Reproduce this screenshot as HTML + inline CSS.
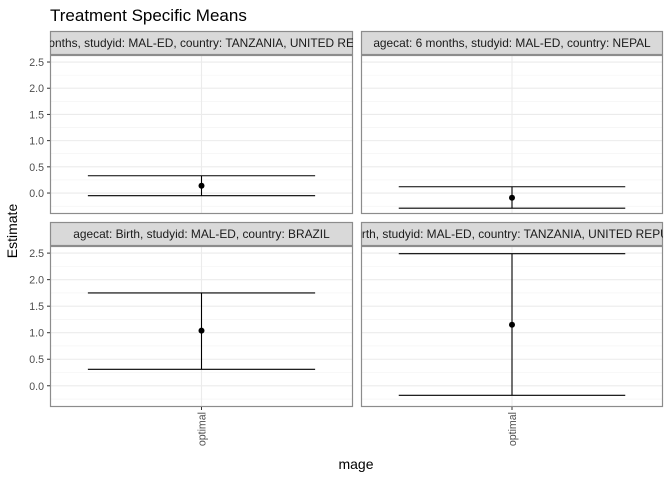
<!DOCTYPE html>
<html><head><meta charset="utf-8">
<style>
html,body{margin:0;padding:0;background:#fff;}
svg{display:block;font-family:"Liberation Sans",Arial,sans-serif;}
</style></head>
<body>
<svg id="chart" width="672" height="480" viewBox="0 0 672 480">
<defs></defs>
<text x="50" y="21" font-size="17" fill="#000">Treatment Specific Means</text>
<text transform="translate(17,231) rotate(-90)" text-anchor="middle" font-size="14" fill="#000">Estimate</text>
<text x="356" y="469" text-anchor="middle" font-size="14" fill="#000">mage</text>
<g id="panels"></g>
</svg>
<script>
const panelTitles = [
 "agecat: 6 months, studyid: MAL-ED, country: TANZANIA, UNITED REPUBLIC OF",
 "agecat: 6 months, studyid: MAL-ED, country: NEPAL",
 "agecat: Birth, studyid: MAL-ED, country: BRAZIL",
 "agecat: Birth, studyid: MAL-ED, country: TANZANIA, UNITED REPUBLIC OF"
];
const categories = ["optimal"];
const estimates = [0.14, -0.09, 1.04, 1.15];
const lowers = [-0.05, -0.29, 0.31, -0.18];
const uppers = [0.33, 0.12, 1.75, 2.49];
const yTicks = [0, 0.5, 1, 1.5, 2, 2.5];
const yTickLabels = ["0.0","0.5","1.0","1.5","2.0","2.5"];

const NS = "http://www.w3.org/2000/svg";
const g = document.getElementById("panels");
const defs = document.querySelector("defs");
const yMin = -0.40, yMax = 2.634;
const layout = [
 {x:50,w:303,sy:31,py:55,ph:159},
 {x:361,w:302,sy:31,py:55,ph:159},
 {x:50,w:303,sy:222,py:246,ph:161},
 {x:361,w:302,sy:222,py:246,ph:161}
];
function mk(tag, attrs, parent){
  const e = document.createElementNS(NS, tag);
  for (const k in attrs) e.setAttribute(k, attrs[k]);
  (parent||g).appendChild(e);
  return e;
}
layout.forEach((L, i) => {
  const yS = v => L.py + L.ph - (v - yMin) / (yMax - yMin) * L.ph;
  const xS = c => L.x + (categories.indexOf(c) + 1 - 0.4) / 1.2 * L.w;
  const pg = mk("g", {});
  
  
  mk("rect", {x:L.x, y:L.py, width:L.w, height:L.ph, fill:"#fff"}, pg);
  for (let k = 0; k < yTicks.length; k++) {
    const m = yTicks[k] - 0.25;
    if (m > yMin) mk("line", {x1:L.x, x2:L.x+L.w, y1:yS(m), y2:yS(m), stroke:"#f2f2f2", "stroke-width":0.6}, pg);
  }
  mk("line", {x1:L.x, x2:L.x+L.w, y1:yS(2.75), y2:yS(2.75), stroke:"#f2f2f2", "stroke-width":0.6}, pg);
  yTicks.forEach(t => mk("line", {x1:L.x, x2:L.x+L.w, y1:yS(t), y2:yS(t), stroke:"#ebebeb", "stroke-width":1.1}, pg));
  categories.forEach(c => mk("line", {x1:xS(c), x2:xS(c), y1:L.py, y2:L.py+L.ph, stroke:"#ebebeb", "stroke-width":1.1}, pg));
  const c = categories[0], cx = xS(c), hw = 0.45 / 1.2 * L.w;
  const eb = mk("g", {stroke:"#000", "stroke-width":1.1}, pg);
  
  
  mk("line", {x1:cx-hw, x2:cx+hw, y1:yS(uppers[i]), y2:yS(uppers[i])}, eb);
  mk("line", {x1:cx-hw, x2:cx+hw, y1:yS(lowers[i]), y2:yS(lowers[i])}, eb);
  mk("line", {x1:cx, x2:cx, y1:yS(uppers[i]), y2:yS(lowers[i])}, eb);
  const pt = mk("circle", {cx:cx, cy:yS(estimates[i]), r:3, fill:"#000"}, pg);
  
  
  mk("rect", {x:L.x+0.5, y:L.py+0.5, width:L.w-1, height:L.ph-1, fill:"none", stroke:"#8c8c8c", "stroke-width":1.2}, pg);
  const cp = mk("clipPath", {id:"clip"+i}, defs);
  mk("rect", {x:L.x, y:L.sy, width:L.w, height:24}, cp);
  const st = mk("rect", {x:L.x+0.5, y:L.sy+0.5, width:L.w-1, height:23, fill:"#d9d9d9", stroke:"#8c8c8c", "stroke-width":1.2}, pg);
  
  
  const tx = mk("text", {x:L.x+L.w/2, y:L.sy+16, "text-anchor":"middle", "font-size":"11.9", fill:"#1a1a1a", "clip-path":"url(#clip"+i+")"}, pg);
  tx.textContent = panelTitles[i];
  
  
  if (L.x === 50) {
    yTicks.forEach((t, k) => {
      mk("line", {x1:L.x-3, x2:L.x, y1:yS(t), y2:yS(t), stroke:"#333", "stroke-width":1}, pg);
      const tl = mk("text", {x:L.x-6, y:yS(t)+4, "text-anchor":"end", "font-size":"10.6", fill:"#4d4d4d"}, pg);
      tl.textContent = yTickLabels[k];
      
      
    });
  }
  if (i >= 2) {
    categories.forEach(cat => {
      const x = xS(cat), y0 = L.py + L.ph;
      mk("line", {x1:x, x2:x, y1:y0, y2:y0+3, stroke:"#333", "stroke-width":1}, pg);
      const xl = mk("text", {transform:"translate("+(x+4)+","+(y0+5)+") rotate(-90)", "text-anchor":"end", "font-size":"10.6", fill:"#4d4d4d"}, pg);
      xl.textContent = cat;
      
      
    });
  }
});
</script>
</body></html>
